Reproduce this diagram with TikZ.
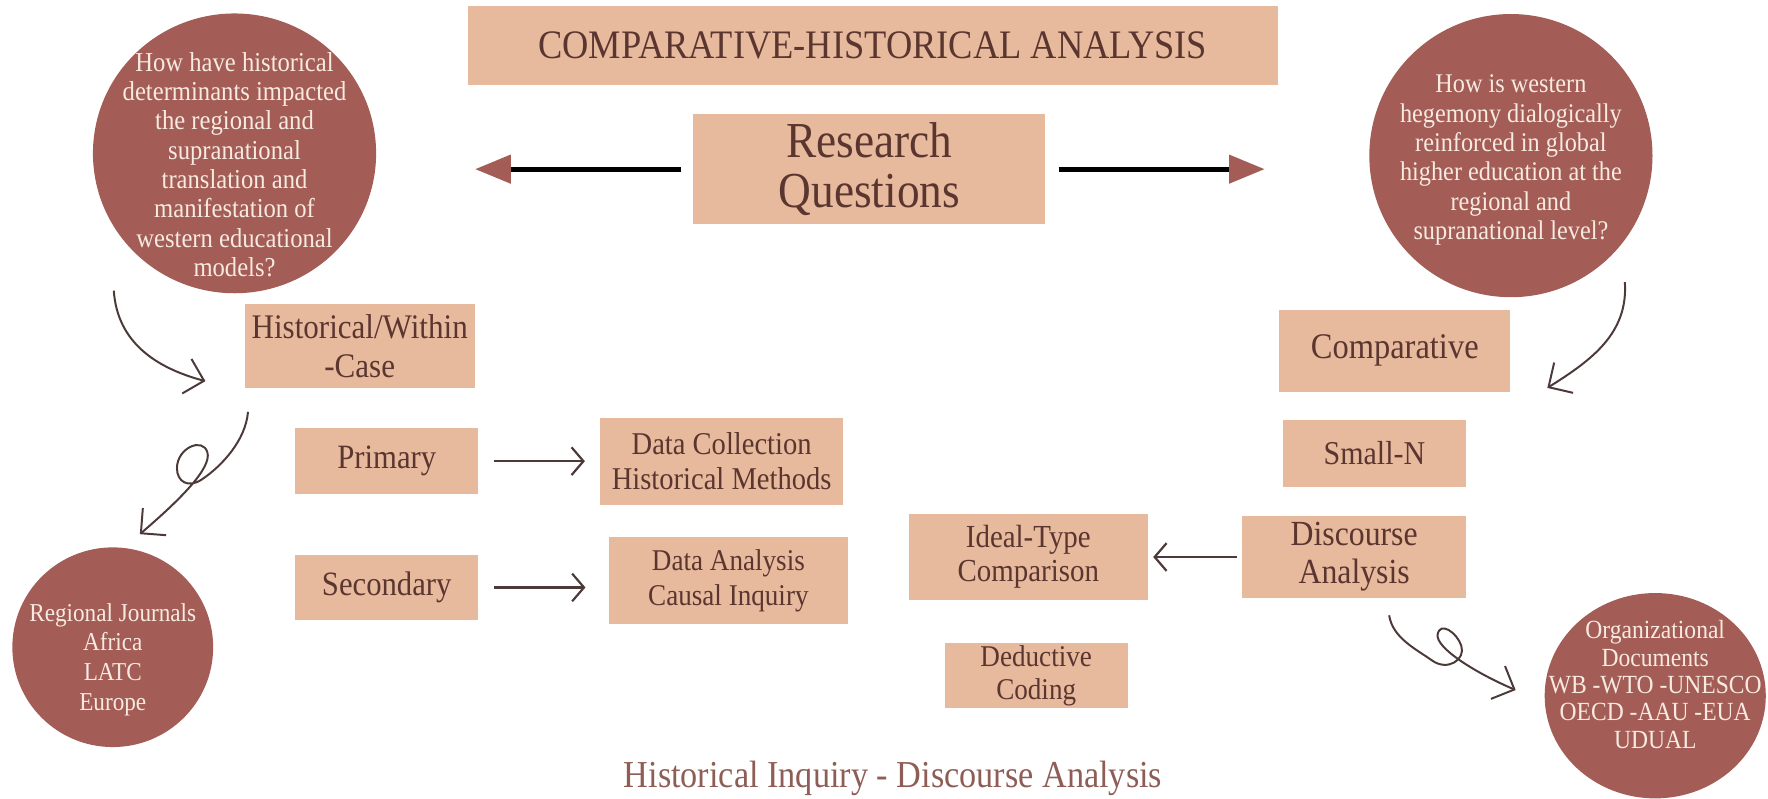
\documentclass[tikz,border=0pt]{standalone}
\usepackage{fontspec}
\setmainfont{Liberation Serif}[FakeStretch=0.9]
\usetikzlibrary{arrows.meta,shapes.geometric}

\definecolor{peach}{HTML}{E7BA9D}
\definecolor{rust}{HTML}{A35D56}
\definecolor{ink}{HTML}{5B3630}
\definecolor{cream}{HTML}{F7EAE0}
\definecolor{pen}{HTML}{4B3A38}
\definecolor{caption}{HTML}{8E5D55}

\begin{document}
\begin{tikzpicture}[x=0.01cm,y=-0.01cm,
    box/.style={fill=peach,text=ink,align=center,inner sep=0pt},
    ball/.style={ellipse,fill=rust,inner sep=0pt},
    balltext/.style={text=cream,align=center,inner sep=0pt},
    big/.style={line width=1.3pt,-{Triangle[length=9pt,width=7pt,color=rust]}},
    link/.style={pen,line width=0.55pt,-{Straight Barb[length=3pt,width=7pt]}},
    curl/.style={pen,line width=0.5pt,-{Straight Barb[length=4.5pt,width=9pt]}}]
  \useasboundingbox (0,0) rectangle (1568,708);

  % header
  \node[box,minimum width=7.18cm,minimum height=0.70cm,
        font=\fontsize{10.2}{12}\selectfont] (title) at (774,40) {COMPARATIVE-HISTORICAL ANALYSIS};
  \node[box,minimum width=3.12cm,minimum height=0.97cm,
        font=\fontsize{12.7}{12.8}\selectfont] (rq) at (771,150) {Research\\Questions};

  % questions
  \node[ball,minimum width=2.51cm,minimum height=2.48cm] (q1) at (208,136) {};
  \node[balltext,font=\fontsize{6.9}{7.4}\selectfont] (q1text) at ([yshift=-0.1cm]q1.center)
    {How have historical\\determinants impacted\\the regional and\\supranational\\translation and\\manifestation of\\western educational\\models?};
  \node[ball,minimum width=2.51cm,minimum height=2.51cm] (q2) at (1340,138) {};
  \node[balltext,font=\fontsize{6.8}{7.4}\selectfont] (q2text) at ([yshift=-0.04cm]q2.center)
    {How is western\\hegemony dialogically\\reinforced in global\\higher education at the\\regional and\\supranational level?};

  % left branch
  \node[box,minimum width=2.04cm,minimum height=0.75cm,
        font=\fontsize{8.7}{9.7}\selectfont] (hist) at (319,307) {Historical/Within\\-Case};
  \node[box,minimum width=1.62cm,minimum height=0.58cm,
        font=\fontsize{8.6}{8.8}\selectfont] (prim) at (343,409) {Primary};
  \node[box,minimum width=1.62cm,minimum height=0.58cm,
        font=\fontsize{8.6}{8.8}\selectfont] (sec) at (343,521) {Secondary};
  \node[box,minimum width=2.15cm,minimum height=0.77cm,
        font=\fontsize{8}{8.8}\selectfont] (coll) at (640,409) {Data Collection\\Historical Methods};
  \node[box,minimum width=2.12cm,minimum height=0.77cm,
        font=\fontsize{7.6}{8.8}\selectfont] (anal) at (646,515) {Data Analysis\\Causal Inquiry};
  \node[ball,minimum width=1.78cm,minimum height=1.77cm] (reg) at (100,574) {};
  \node[balltext,font=\fontsize{6.5}{7.5}\selectfont] (regtext) at ([yshift=-0.11cm]reg.center)
    {Regional Journals\\Africa\\LATC\\Europe};

  % right branch
  \node[box,minimum width=2.05cm,minimum height=0.73cm,
        font=\fontsize{9.1}{9.7}\selectfont] (comp) at (1237,311) {Comparative};
  \node[box,minimum width=1.62cm,minimum height=0.59cm,
        font=\fontsize{8.4}{8.8}\selectfont] (small) at (1219,402) {Small-N};
  \node[box,minimum width=1.98cm,minimum height=0.72cm,
        font=\fontsize{8.9}{9.6}\selectfont] (disc) at (1201,494) {Discourse\\Analysis};
  \node[box,minimum width=2.12cm,minimum height=0.76cm,
        font=\fontsize{8.1}{8.6}\selectfont] (ideal) at (912,494) {Ideal-Type\\Comparison};
  \node[box,minimum width=1.62cm,minimum height=0.58cm,
        font=\fontsize{7.6}{8.3}\selectfont] (ded) at (919,599) {Deductive\\Coding};
  \node[ball,minimum width=1.96cm,minimum height=1.82cm] (org) at (1468,617) {};
  \node[balltext,font=\fontsize{6.6}{6.9}\selectfont] (orgtext) at ([yshift=0.1cm]org.center)
    {Organizational\\Documents\\WB -WTO -UNESCO\\OECD -AAU -EUA\\UDUAL};

  \node[text=caption,font=\fontsize{9.6}{11}\selectfont] (foot) at (792,690)
    {Historical Inquiry - Discourse Analysis};

  % arrows
  \draw[big,shorten <=0.1cm,shorten >=0.87cm] (rq.west) -- (rq.west -| q1.east);
  \draw[big,shorten <=0.11cm,shorten >=0.92cm] (rq.east) -- (rq.east -| q2.west);

  \draw[link,shorten <=0.13cm,shorten >=0.13cm] (prim) -- (prim -| coll.west);
  \draw[link,shorten <=0.13cm,shorten >=0.2cm] (sec) -- (sec -| anal.west);
  \draw[link,shorten <=0.04cm,shorten >=0.04cm] (disc) -- (disc -| ideal.east);

  \draw[curl] ([xshift=-1.07cm,yshift=0.03cm]q1.south)
    .. controls +(3,45) and +(-45,-12) .. ([xshift=-0.34cm,yshift=-0.31cm]hist.west);
  \draw[curl] ([xshift=-0.99cm,yshift=-0.2cm]hist.south)
    .. controls +(-2,25) and +(18,-12) .. ++(-41,60)
    .. controls +(-12,8) and +(0,12) .. ++(-22,-10)
    .. controls +(0,-18) and +(-4,-14) .. ++(27,-14)
    .. controls +(4,14) and +(35,-30) .. ([xshift=0.24cm,yshift=0.11cm]reg.north);
  \draw[curl] ([xshift=1.01cm,yshift=0.14cm]q2.south)
    .. controls +(3,45) and +(40,-25) .. ([xshift=0.32cm,yshift=-0.33cm]comp.east);
  \draw[curl] ([xshift=0.31cm,yshift=-0.15cm]disc.south)
    .. controls +(3,20) and +(-14,-10) .. ++(38,40)
    .. controls +(14,10) and +(4,12) .. ++(26,-13)
    .. controls +(-4,-12) and +(2,-12) .. ++(-21,-10)
    .. controls +(-2,12) and +(-35,-15) .. ([xshift=-0.25cm,yshift=0.05cm]org.west);
\end{tikzpicture}
\end{document}
